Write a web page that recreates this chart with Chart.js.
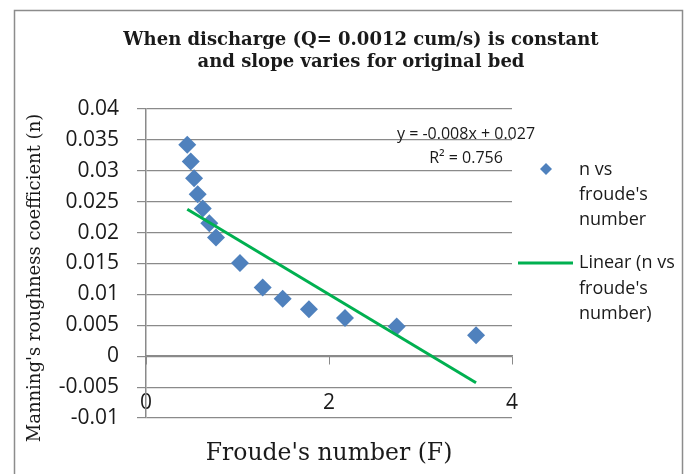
<!DOCTYPE html>
<html>
<head>
<meta charset="utf-8">
<script src="https://cdn.jsdelivr.net/npm/chart.js@4.4.1/dist/chart.umd.min.js"></script>
<style>
  html, body { margin:0; padding:0; background:#fff; }
  #wrap { width:692px; height:474px; position:relative; }
</style>
</head>
<body>
<div id="wrap"><canvas id="c" width="692" height="474"></canvas></div>
<script>
// ------------------------------------------------------
// data
// ------------------------------------------------------
const froude  = [0.451, 0.489, 0.525, 0.565, 0.620, 0.692, 0.765, 1.027, 1.275, 1.494, 1.781, 2.175, 2.740, 3.607];
const manning = [0.0342, 0.0315, 0.0288, 0.0262, 0.0239, 0.0215, 0.0192, 0.0151, 0.0111, 0.0093, 0.0076, 0.0062, 0.0048, 0.0034];

// trendline as drawn (endpoints at min / max of F)
const trendSlope = -0.0089;
const trendIntercept = 0.0278;

const titleLines = ['When discharge (Q= 0.0012 cum/s) is constant', 'and slope varies for original bed'];
const xTitle = "Froude's number (F)";
const yTitle = "Manning's roughness coefficient (n)";
const eqLines = ['y = -0.008x + 0.027', 'R\u00b2 = 0.756'];
const legendScatter = ['n vs', "froude's", 'number'];
const legendTrend = ['Linear (n vs', "froude's", 'number)'];

const xTicks = { min: 0, max: 4, step: 2 };
const yTicks = { min: -0.01, max: 0.04, step: 0.005 };

const BLUE = '#4f81bd';
const GREEN = '#00b050';
const GRID = '#8a8a8a';
const TEXT = '#1a1a1a';

const pts = froude.map((f, i) => ({ x: f, y: manning[i] }));
const fMin = Math.min(...froude), fMax = Math.max(...froude);
const trendPts = [fMin, fMax].map(f => ({ x: f, y: trendSlope * f + trendIntercept }));

// ------------------------------------------------------
// extra text (titles, equation, legend, frame)
// ------------------------------------------------------
const decor = {
  id: 'decor',
  beforeDraw(chart){
    const ctx = chart.ctx;
    ctx.save();
    ctx.fillStyle = '#fff';
    ctx.fillRect(0, 0, chart.width, chart.height);
    ctx.strokeStyle = '#8c8c8c';
    ctx.lineWidth = 1.5;
    ctx.strokeRect(14.5, 10.5, 668, 480);
    ctx.restore();
  },
  afterDraw(chart){
    const ctx = chart.ctx;
    ctx.save();
    ctx.fillStyle = TEXT;
    ctx.textAlign = 'center';
    ctx.textBaseline = 'middle';

    ctx.font = 'bold 18px "DejaVu Serif"';
    ctx.fillText(titleLines[0], 361, 40);
    ctx.fillText(titleLines[1], 361, 62);

    ctx.font = '23.5px "DejaVu Serif"';
    ctx.fillText(xTitle, 329, 454);

    ctx.save();
    ctx.translate(35, 278);
    ctx.rotate(-Math.PI / 2);
    ctx.font = '18px "DejaVu Serif"';
    ctx.fillText(yTitle, 0, 0);
    ctx.restore();

    ctx.font = '16px "Open Sans"';
    ctx.fillText(eqLines[0], 466, 134);
    ctx.fillText(eqLines[1], 466, 158);

    // legend
    ctx.textAlign = 'left';
    ctx.font = '18px "Open Sans"';
    legendScatter.forEach((t, i) => ctx.fillText(t, 579, 170 + i * 25));
    legendTrend.forEach((t, i) => ctx.fillText(t, 579, 263 + i * 25.5));

    ctx.fillStyle = BLUE;
    ctx.beginPath();
    ctx.moveTo(546, 163); ctx.lineTo(552, 169); ctx.lineTo(546, 175); ctx.lineTo(540, 169);
    ctx.closePath(); ctx.fill();

    ctx.strokeStyle = GREEN;
    ctx.lineWidth = 3;
    ctx.beginPath();
    ctx.moveTo(518, 263); ctx.lineTo(573, 263);
    ctx.stroke();
    ctx.restore();
  }
};

new Chart(document.getElementById('c'), {
  type: 'scatter',
  data: {
    datasets: [
      {
        label: "n vs froude's number",
        data: pts,
        pointStyle: 'rectRot',
        pointRadius: 9,
        pointHoverRadius: 9,
        backgroundColor: BLUE,
        borderColor: BLUE,
        borderWidth: 0,
        order: 1
      },
      {
        label: "Linear (n vs froude's number)",
        type: 'line',
        data: trendPts,
        borderColor: GREEN,
        borderWidth: 3,
        pointRadius: 0,
        fill: false,
        order: 0
      }
    ]
  },
  options: {
    responsive: false,
    animation: false,
    layout: { padding: { top: 109, right: 180, bottom: 56, left: 0 } },
    plugins: { legend: { display: false }, title: { display: false }, tooltip: { enabled: false } },
    scales: {
      x: {
        type: 'linear',
        position: { y: 0 },
        min: xTicks.min, max: xTicks.max,
        grid: { drawOnChartArea: false, drawTicks: true, tickLength: 8, color: GRID },
        border: { display: true, color: GRID, width: 1.5 },
        ticks: { stepSize: xTicks.step, padding: 26, color: TEXT, font: { family: 'Open Sans', size: 21 } }
      },
      y: {
        type: 'linear',
        position: 'left',
        min: yTicks.min, max: yTicks.max,
        afterFit: s => { s.width = 146; },
        grid: { color: GRID, lineWidth: 1.2, tickLength: 9 },
        border: { display: true, color: GRID, width: 1.5 },
        ticks: {
          stepSize: yTicks.step,
          padding: 18,
          color: TEXT,
          font: { family: 'Open Sans', size: 21 },
          callback: v => String(parseFloat(v.toFixed(4)))
        }
      }
    }
  },
  plugins: [decor]
});
</script>
</body>
</html>
